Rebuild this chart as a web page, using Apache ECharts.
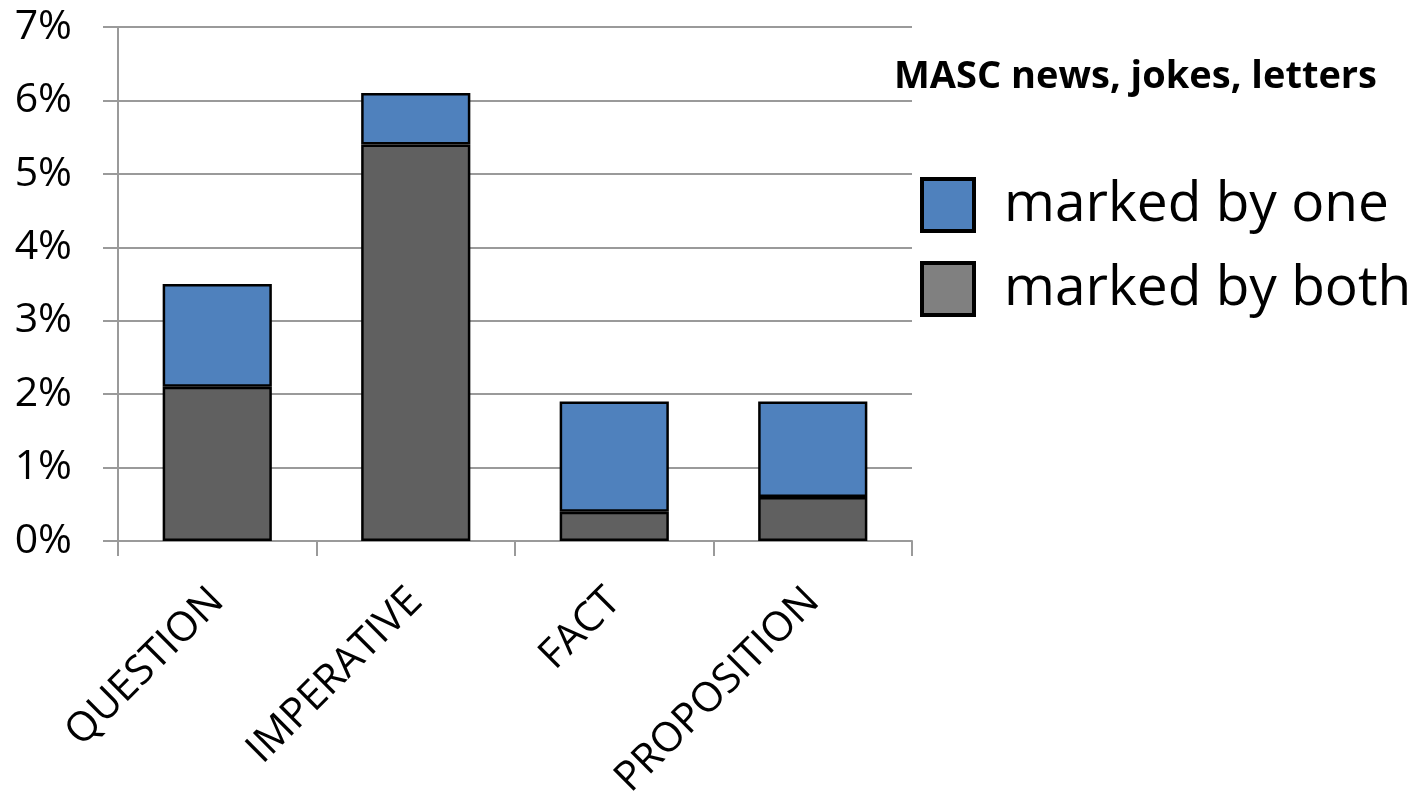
<!DOCTYPE html>
<html>
<head>
<meta charset="utf-8">
<script src="https://cdn.jsdelivr.net/npm/echarts@6/dist/echarts.min.js"></script>
<style>
  html, body { margin: 0; padding: 0; background: #fff; }
  #chart { width: 1427px; height: 793px; }
</style>
</head>
<body>
<div id="chart"></div>
<script>
// Share of sentences per category, in percent
const categories = ['QUESTION', 'IMPERATIVE', 'FACT', 'PROPOSITION'];
const markedByBoth = [2.1, 5.4, 0.4, 0.6];
const markedByOne = [1.4, 0.7, 1.5, 1.3];
const seriesNames = ['marked by one', 'marked by both'];
const legendTitle = 'MASC news, jokes, letters';

const FONT = '"Open Sans", Lato, sans-serif';
const GRID_GRAY = '#9a9a9a';
const BLUE = '#4f81bd';
const DARK = '#606060';

const chart = echarts.init(document.getElementById('chart'));
chart.setOption({
  animation: false,
  textStyle: { fontFamily: FONT, color: '#000' },
  title: {
    text: legendTitle,
    left: 894,
    top: 58,
    padding: 0,
    textStyle: { fontFamily: FONT, fontSize: 38, fontWeight: 'bold', color: '#000' }
  },
  legend: {
    orient: 'vertical',
    left: 920,
    top: 177,
    padding: 0,
    itemWidth: 52,
    itemHeight: 52,
    itemGap: 28,
    icon: 'rect',
    textStyle: { fontFamily: FONT, fontSize: 55, lineHeight: 52, color: '#000', padding: [3, 0, 0, 25] },
    data: [
      { name: seriesNames[0], itemStyle: { color: BLUE, borderColor: '#000', borderWidth: 4 } },
      { name: seriesNames[1], itemStyle: { color: '#808080', borderColor: '#000', borderWidth: 4 } }
    ]
  },
  grid: { left: 118, right: 515, top: 27, bottom: 252, containLabel: false, outerBoundsMode: 'none' },
  xAxis: {
    type: 'category',
    data: categories,
    boundaryGap: true,
    axisLine: { lineStyle: { color: GRID_GRAY, width: 2 } },
    axisTick: { show: true, length: 15, alignWithLabel: false, lineStyle: { color: GRID_GRAY, width: 2 } },
    axisLabel: { rotate: 45, fontSize: 41, color: '#000', margin: 54, fontFamily: FONT, interval: 0 }
  },
  yAxis: {
    type: 'value',
    min: 0,
    max: 7,
    interval: 1,
    axisLine: { show: true, lineStyle: { color: GRID_GRAY, width: 2 } },
    axisTick: { show: true, length: 15, lineStyle: { color: GRID_GRAY, width: 2 } },
    axisLabel: { formatter: '{value}%', fontSize: 41, color: '#000', margin: 46, fontFamily: FONT },
    splitLine: { show: true, lineStyle: { color: GRID_GRAY, width: 2 } }
  },
  series: [
    {
      name: seriesNames[1],
      type: 'bar',
      stack: 'total',
      barWidth: '55%',
      data: markedByBoth,
      itemStyle: { color: DARK, borderColor: '#000', borderWidth: 2.5 }
    },
    {
      name: seriesNames[0],
      type: 'bar',
      stack: 'total',
      barWidth: '55%',
      data: markedByOne,
      itemStyle: { color: BLUE, borderColor: '#000', borderWidth: 2.5 }
    }
  ]
});
</script>
</body>
</html>
